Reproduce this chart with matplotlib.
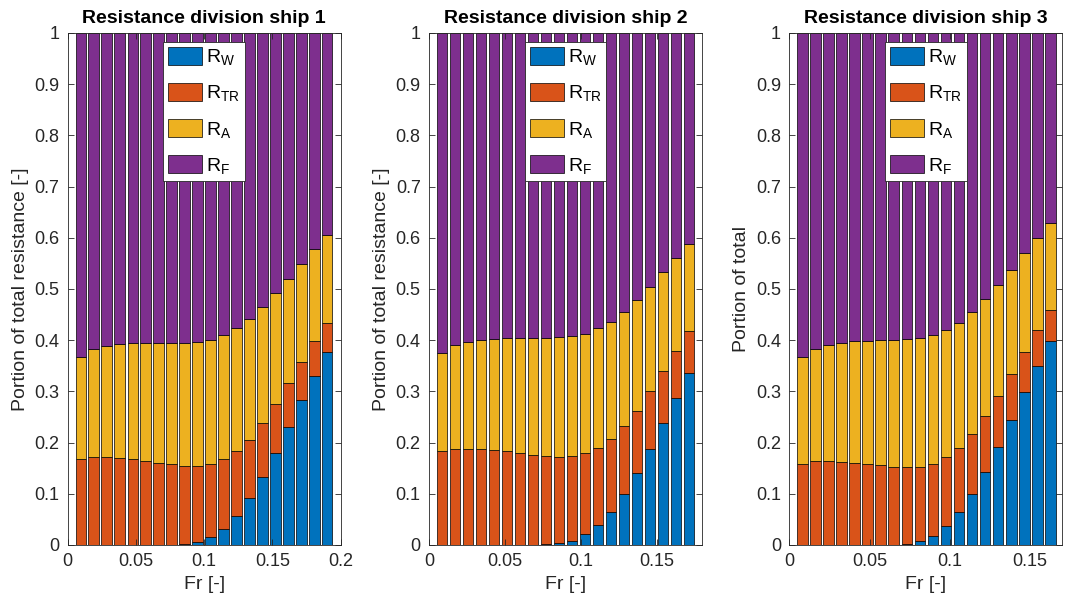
import numpy as np
import matplotlib.pyplot as plt
from matplotlib.ticker import FormatStrFormatter, MultipleLocator

plt.rcParams['font.family'] = ['Liberation Sans', 'DejaVu Sans']
plt.rcParams['mathtext.fontset'] = 'custom'
plt.rcParams['mathtext.rm'] = 'Liberation Sans'
plt.rcParams['mathtext.it'] = 'Liberation Sans'

# Froude numbers per ship
fr_1 = [0.0095, 0.0190, 0.0285, 0.0380, 0.0476, 0.0571, 0.0666, 0.0761, 0.0856, 0.0951,
        0.1046, 0.1141, 0.1237, 0.1332, 0.1427, 0.1522, 0.1617, 0.1712, 0.1807, 0.1902]
fr_2 = [0.0086, 0.0171, 0.0257, 0.0343, 0.0428, 0.0514, 0.0600, 0.0686, 0.0771, 0.0857,
        0.0943, 0.1028, 0.1114, 0.1200, 0.1285, 0.1371, 0.1457, 0.1543, 0.1628, 0.1714]
fr_3 = [0.0081, 0.0163, 0.0244, 0.0325, 0.0407, 0.0488, 0.0569, 0.0650, 0.0732, 0.0813,
        0.0894, 0.0976, 0.1057, 0.1138, 0.1220, 0.1301, 0.1382, 0.1463, 0.1545, 0.1626]

# resistance components (portion of total)
rw_1 = [0, 0, 0, 0, 0, 0, 0, 0, 0.002, 0.005, 0.016, 0.032, 0.057, 0.091, 0.133, 0.180, 0.231, 0.283, 0.331, 0.376]
rtr_1 = [0.168, 0.172, 0.172, 0.169, 0.167, 0.164, 0.160, 0.158, 0.152, 0.149,
         0.142, 0.135, 0.126, 0.115, 0.105, 0.095, 0.085, 0.074, 0.067, 0.058]
ra_1 = [0.199, 0.210, 0.217, 0.224, 0.227, 0.231, 0.235, 0.237, 0.241, 0.243,
        0.243, 0.243, 0.240, 0.235, 0.226, 0.217, 0.204, 0.192, 0.181, 0.171]
rf_1 = [0.633, 0.618, 0.611, 0.607, 0.606, 0.605, 0.605, 0.605, 0.605, 0.603,
        0.599, 0.590, 0.577, 0.559, 0.536, 0.508, 0.480, 0.451, 0.421, 0.395]

rw_2 = [0, 0, 0, 0, 0, 0, 0, 0, 0.001, 0.003, 0.008, 0.021, 0.039, 0.065, 0.099, 0.141, 0.188, 0.238, 0.287, 0.335]
rtr_2 = [0.184, 0.188, 0.188, 0.188, 0.185, 0.184, 0.180, 0.176, 0.172, 0.169,
         0.165, 0.159, 0.150, 0.142, 0.133, 0.121, 0.112, 0.101, 0.091, 0.083]
ra_2 = [0.190, 0.202, 0.208, 0.212, 0.217, 0.220, 0.224, 0.228, 0.231, 0.234,
        0.235, 0.233, 0.234, 0.228, 0.223, 0.216, 0.203, 0.194, 0.183, 0.170]
rf_2 = [0.626, 0.610, 0.604, 0.600, 0.598, 0.596, 0.596, 0.596, 0.596, 0.594,
        0.592, 0.587, 0.577, 0.565, 0.545, 0.522, 0.497, 0.467, 0.439, 0.412]

rw_3 = [0, 0, 0, 0, 0, 0, 0, 0, 0.002, 0.007, 0.018, 0.037, 0.064, 0.099, 0.143, 0.192, 0.244, 0.298, 0.350, 0.398]
rtr_3 = [0.158, 0.164, 0.164, 0.163, 0.160, 0.158, 0.156, 0.153, 0.150, 0.146,
         0.140, 0.135, 0.125, 0.118, 0.108, 0.099, 0.090, 0.079, 0.070, 0.061]
ra_3 = [0.209, 0.218, 0.226, 0.232, 0.238, 0.241, 0.244, 0.247, 0.250, 0.251,
        0.252, 0.248, 0.245, 0.238, 0.229, 0.216, 0.204, 0.193, 0.180, 0.170]
rf_3 = [0.633, 0.618, 0.610, 0.605, 0.602, 0.601, 0.600, 0.600, 0.598, 0.596,
        0.590, 0.580, 0.566, 0.545, 0.520, 0.493, 0.462, 0.430, 0.400, 0.371]

labels = ['R$_\\mathregular{W}$', 'R$_\\mathregular{TR}$', 'R$_\\mathregular{A}$', 'R$_\\mathregular{F}$']
colors = ['#0072BD', '#D95319', '#EDB120', '#7E2F8E']
titles = ['Resistance division ship 1', 'Resistance division ship 2', 'Resistance division ship 3']
ylabels = ['Portion of total resistance [-]', 'Portion of total resistance [-]', 'Portion of total']
xmax = [0.2, 0.18, 0.17]

ships = [(fr_1, [rw_1, rtr_1, ra_1, rf_1]),
         (fr_2, [rw_2, rtr_2, ra_2, rf_2]),
         (fr_3, [rw_3, rtr_3, ra_3, rf_3])]

axcol = '#262626'
fig = plt.figure(figsize=(10.7, 6.05), dpi=100)
lefts = [0.0633, 0.401, 0.7377]

for i, (fr, parts) in enumerate(ships):
    ax = fig.add_axes([lefts[i], 0.0992, 0.2551, 0.8463])
    fr = np.array(fr)
    w = 0.8 * (fr[1] - fr[0])
    bottom = np.zeros(len(fr))
    for vals, c, lab in zip(parts, colors, labels):
        ax.bar(fr, vals, width=w, bottom=bottom, color=c, edgecolor='k',
               linewidth=0.5, label=lab)
        bottom = bottom + np.array(vals)

    ax.set_xlim(0, xmax[i])
    ax.set_ylim(0, 1)
    ax.xaxis.set_major_locator(MultipleLocator(0.05))
    ax.yaxis.set_major_locator(MultipleLocator(0.1))
    ax.xaxis.set_major_formatter(FormatStrFormatter('%g'))
    ax.yaxis.set_major_formatter(FormatStrFormatter('%g'))
    ax.tick_params(direction='in', length=4, width=0.6, top=True, right=True,
                   labelsize=13, colors=axcol, pad=6)
    for sp in ax.spines.values():
        sp.set_color(axcol)
        sp.set_linewidth(0.6)

    ax.set_title(titles[i], fontsize=14, fontweight='bold', pad=7)
    ax.set_xlabel('Fr [-]', fontsize=14, color=axcol)
    ax.set_ylabel(ylabels[i], fontsize=14, color=axcol)

    leg = ax.legend(loc='upper center', fontsize=14, handlelength=1.75, handleheight=1.05,
                    labelspacing=0.8, handletextpad=0.2, borderpad=0.25,
                    borderaxespad=0.45, fancybox=False, framealpha=1)
    leg.get_frame().set_edgecolor(axcol)
    leg.get_frame().set_linewidth(0.6)

fig.savefig('out.png', dpi=100)
